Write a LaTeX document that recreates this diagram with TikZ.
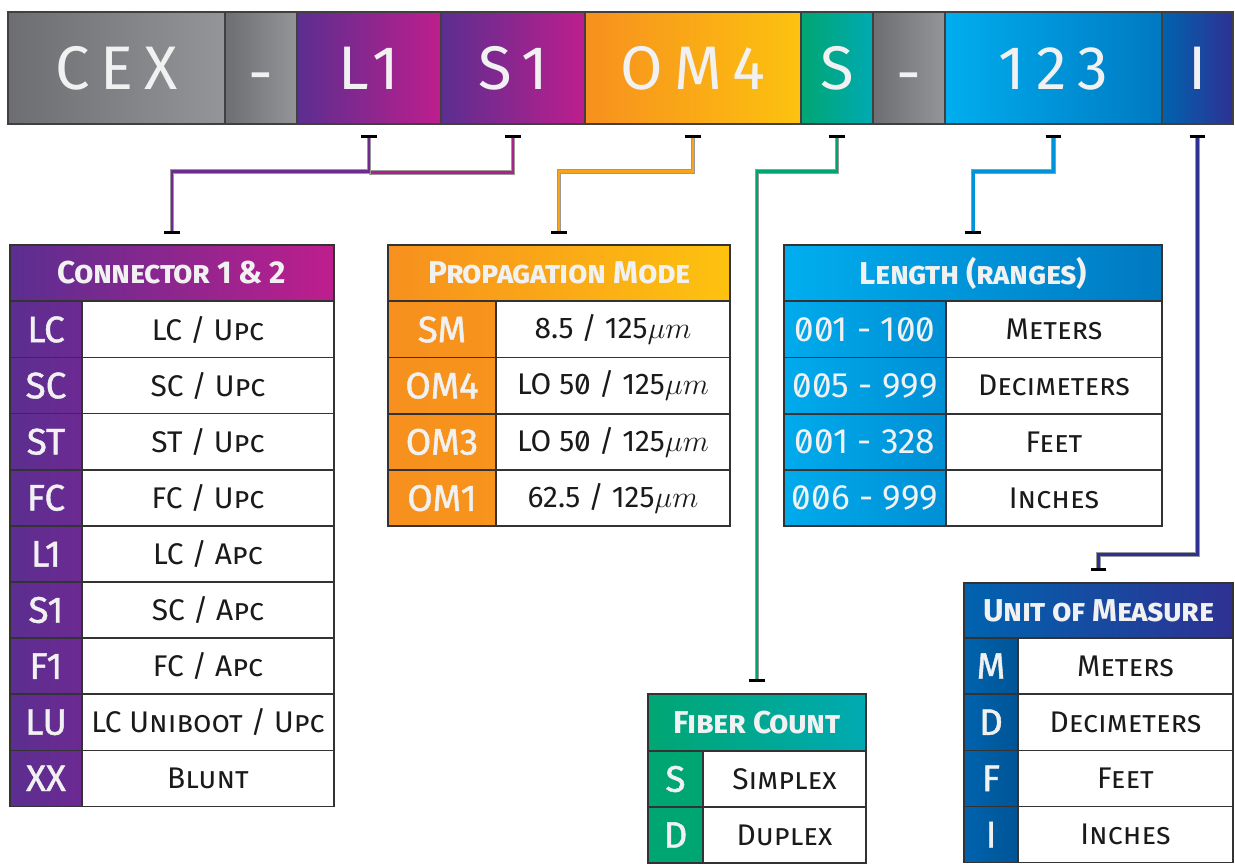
\documentclass[tikz,border=0pt]{standalone}
\usepackage{fontspec}
\setmainfont{Fira Sans}[Numbers=SlashedZero]
\usetikzlibrary{arrows.meta, calc}
\definecolor{cexdark}{HTML}{6D6E71}
\definecolor{cexlight}{HTML}{939598}
\definecolor{conpurple}{HTML}{5B2E90}
\definecolor{conmagenta}{HTML}{BE1E8D}
\definecolor{conkeyright}{HTML}{6C2A92}
\definecolor{modeorange}{HTML}{F7901E}
\definecolor{modeyellow}{HTML}{FDC20F}
\definecolor{fibgreen}{HTML}{00A672}
\definecolor{fibteal}{HTML}{00AAB2}
\definecolor{lensky}{HTML}{00AEEF}
\definecolor{lenblue}{HTML}{0079C1}
\definecolor{lenkey}{HTML}{008FD5}
\definecolor{unitblue}{HTML}{0063AF}
\definecolor{unitindigo}{HTML}{2E3192}
\definecolor{textwhite}{HTML}{F1F1F2}
\definecolor{celltext}{HTML}{1A1A1A}
\newdimen\pxu
\pxu=0.02cm

\tikzset{
  seg/.style={draw=black!75, line width=0.8pt, minimum height=112\pxu, inner sep=0pt,
    text height=24pt, text depth=0pt,
    text=textwhite, font=\fontsize{35}{40}\selectfont\addfontfeatures{LetterSpace=18}},
  head/.style={draw=black!80, line width=0.8pt, inner sep=0pt, text=textwhite,
    font=\fontsize{18}{22}\selectfont\bfseries\addfontfeatures{LetterSpace=-1.5}},
  key/.style={draw=black!80, line width=0.8pt, inner sep=0pt, minimum height=56\pxu,
    text=textwhite, font=\fontsize{21}{24}\selectfont\addfontfeatures{FakeBold=1.2}},
  thinkey/.style={key, font=\fontsize{20}{24}\selectfont},
  val/.style={draw=black!80, line width=0.8pt, inner sep=0pt, minimum height=56\pxu,
    fill=white, text=celltext, font=\fontsize{17}{20}\selectfont},
  wire/.style={line width=1.7pt, draw=#1, preaction={draw=black!40, line width=2.7pt},
    arrows={Bar[black,width=9pt,line width=2pt]-Bar[black,width=9pt,line width=2pt]}},
  halfwire/.style={line width=1.7pt, draw=#1, preaction={draw=black!40, line width=2.7pt},
    arrows={Bar[black,width=9pt,line width=2pt]-}}
}

\begin{document}
\begin{tikzpicture}[x=0.02cm, y=-0.02cm]
\useasboundingbox (0,0) rectangle (1235,867);

\node[seg, minimum width=217\pxu, left color=cexdark, right color=cexlight] (cex) at (116.5,68) {CEX};
\node[seg, minimum width=72\pxu, left color=cexdark, right color=cexlight] (dasha) at (261,68) {\raisebox{-0.08em}{-}};
\node[seg, minimum width=144\pxu, left color=conpurple, right color=conmagenta] (l1) at (369,68) {L1};
\node[seg, minimum width=144\pxu, left color=conpurple, right color=conmagenta] (s1) at (513,68) {S1};
\node[seg, minimum width=216\pxu, left color=modeorange, right color=modeyellow] (om4) at (693,68) {OM4};
\node[seg, minimum width=72\pxu, left color=fibgreen, right color=fibteal] (s) at (837,68) {S};
\node[seg, minimum width=72\pxu, left color=cexdark, right color=cexlight] (dashb) at (909,68) {\raisebox{-0.08em}{-}};
\node[seg, minimum width=217\pxu, left color=lensky, right color=lenblue] (len) at (1053.5,68) {123};
\node[seg, minimum width=71\pxu, left color=unitblue, right color=unitindigo] (i) at (1197.5,68) {I};

% connector 1 & 2
\node[head, minimum width=324\pxu, minimum height=56\pxu, left color=conpurple, right color=conmagenta] (conhead) at (172,273) {\textsc{Connector} 1 \& 2};
\foreach \k/\v [count=\i from 0] in {LC/{LC / \textsc{Upc}}, SC/{SC / \textsc{Upc}}, ST/{ST / \textsc{Upc}}, FC/{FC / \textsc{Upc}}, L1/{LC / \textsc{Apc}}, S1/{SC / \textsc{Apc}}, F1/{FC / \textsc{Apc}}, LU/{LC \textsc{Uniboot / Upc}}, XX/{\textsc{Blunt}}} {
  \node[key, minimum width=72\pxu, left color=conpurple, right color=conkeyright] (conkey\i) at (46,329.5+56.1*\i) {\k};
  \node[val, minimum width=252\pxu] (conval\i) at (208,329.5+56.1*\i) {\v};
}

% propagation mode
\node[head, minimum width=342\pxu, minimum height=56\pxu, left color=modeorange, right color=modeyellow] (modehead) at (559,273) {\textsc{Propagation Mode}};
\foreach \k/\v [count=\i from 0] in {SM/{8.5 / 125$\mu m$}, OM4/{LO 50 / 125$\mu m$}, OM3/{LO 50 / 125$\mu m$}, OM1/{62.5 / 125$\mu m$}} {
  \node[key, minimum width=108\pxu, left color=modeorange, right color=modeorange!92!modeyellow] (modekey\i) at (442,329.5+56.2*\i) {\k};
  \node[val, minimum width=234\pxu] (modeval\i) at (613,329.5+56.2*\i) {\v};
}

% length
\node[head, minimum width=378\pxu, minimum height=56\pxu, left color=lensky, right color=lenblue] (lenhead) at (973,273) {\textsc{Length (ranges)}};
\foreach \k/\v [count=\i from 0] in {{001 - 100}/\textsc{Meters}, {005 - 999}/\textsc{Decimeters}, {001 - 328}/\textsc{Feet}, {006 - 999}/\textsc{Inches}} {
  \node[thinkey, minimum width=162\pxu, left color=lensky!90!lenkey, right color=lenkey] (lenkey\i) at (865,329.5+56.2*\i) {\k};
  \node[val, minimum width=216\pxu] (lenval\i) at (1054,329.5+56.2*\i) {\v};
}

% fiber count
\node[head, minimum width=218\pxu, minimum height=57\pxu, left color=fibgreen, right color=fibteal] (fibhead) at (757,722.5) {\textsc{Fiber Count}};
\foreach \k/\v [count=\i from 0] in {S/\textsc{Simplex}, D/\textsc{Duplex}} {
  \node[key, minimum width=55\pxu, fill=fibgreen] (fibkey\i) at (675.5,779+56*\i) {\k};
  \node[val, minimum width=163\pxu] (fibval\i) at (784.5,779+56*\i) {\v};
}

% unit of measure
\node[head, minimum width=269\pxu, minimum height=55\pxu, left color=unitblue, right color=unitindigo] (unithead) at (1098.5,610.5) {\textsc{Unit of Measure}};
\foreach \k/\v [count=\i from 0] in {M/\textsc{Meters}, D/\textsc{Decimeters}, F/\textsc{Feet}, I/\textsc{Inches}} {
  \node[key, minimum width=54\pxu, left color=unitblue, right color=unitblue!85!black] (unitkey\i) at (991,666+56.2*\i) {\k};
  \node[val, minimum width=215\pxu] (unitval\i) at (1125.5,666+56.2*\i) {\v};
}

\draw[halfwire=conmagenta!85!conpurple] ($(s1.south)+(0,10)$) |- ($(l1.south)+(0,48)$);
\draw[wire=conpurple!80!conmagenta] ($(l1.south)+(0,10)$) |- ($(conhead.north)+(0,-73)$) -- ($(conhead.north)+(0,-10)$);
\draw[wire=modeorange!60!modeyellow] ($(om4.south)+(0,10)$) |- ($(modehead.north)+(0,-73)$) -- ($(modehead.north)+(0,-10)$);
\draw[wire=fibgreen] ($(s.south)+(0,10)$) |- ($(fibhead.north)+(0,-522)$) -- ($(fibhead.north)+(0,-11)$);
\draw[wire=lensky!50!lenblue] ($(len.south)+(0,10)$) |- ($(lenhead.north)+(0,-73)$) -- ($(lenhead.north)+(0,-10)$);
\draw[wire=unitindigo] ($(i.south)+(0,10)$) |- ($(unithead.north)+(0,-28)$) -- ($(unithead.north)+(0,-11)$);
\end{tikzpicture}
\end{document}
